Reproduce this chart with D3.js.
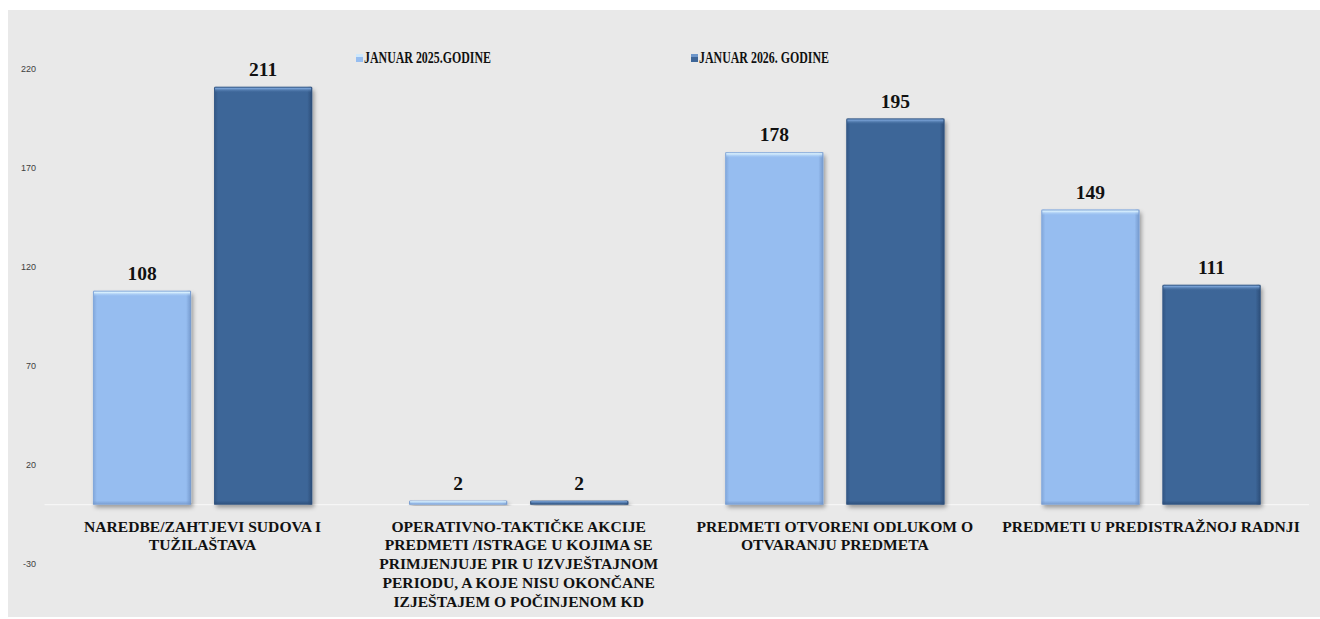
<!DOCTYPE html>
<html>
<head>
<meta charset="utf-8">
<script src="https://cdn.jsdelivr.net/npm/d3@7"></script>
<style>
  html, body { margin: 0; padding: 0; background: #ffffff; }
  svg { display: block; }
</style>
</head>
<body>
<svg id="chart" width="1320" height="619"></svg>
<script>
// ---- data ----
const categories = [
  "NAREDBE/ZAHTJEVI SUDOVA I\nTUŽILAŠTAVA",
  "OPERATIVNO-TAKTIČKE AKCIJE\nPREDMETI /ISTRAGE U KOJIMA SE\nPRIMJENJUJE PIR U IZVJEŠTAJNOM\nPERIODU, A KOJE NISU OKONČANE\nIZJEŠTAJEM O POČINJENOM KD",
  "PREDMETI OTVORENI ODLUKOM O\nOTVARANJU PREDMETA",
  "PREDMETI U PREDISTRAŽNOJ RADNJI"
];
const seriesNames = ["JANUAR 2025.GODINE", "JANUAR 2026. GODINE"];
const values2025 = [108, 2, 178, 149];
const values2026 = [211, 2, 195, 111];
const yTicks = [-30, 20, 70, 120, 170, 220];

// ---- styles ----
const baseColors = ["#96bdf0", "#3e6698"];
const highlightColors = ["#dcf3ff", "#7ba4d8"];
const edgeColors = ["#7094c8", "#2a4a74"];
const serif = "'Liberation Serif', 'DejaVu Serif', serif";

const svg = d3.select("#chart");
const defs = svg.append("defs");

// background
svg.append("rect").attr("x", 8).attr("y", 10).attr("width", 1312).attr("height", 607)
  .attr("fill", "#e9e9e9");

// drop shadow filter
const f = defs.append("filter").attr("id", "shadow").attr("x", "-20%").attr("y", "-20%")
  .attr("width", "140%").attr("height", "140%");
f.append("feDropShadow").attr("dx", 2).attr("dy", 3).attr("stdDeviation", 2)
  .attr("flood-color", "#000").attr("flood-opacity", 0.35);

// gradients for bevel overlays
seriesNames.forEach((s, i) => {
  const gt = defs.append("linearGradient").attr("id", "top" + i)
    .attr("x1", 0).attr("y1", 0).attr("x2", 0).attr("y2", 1);
  gt.append("stop").attr("offset", "0%").attr("stop-color", edgeColors[i]).attr("stop-opacity", 0.6);
  gt.append("stop").attr("offset", "25%").attr("stop-color", highlightColors[i]).attr("stop-opacity", 1);
  gt.append("stop").attr("offset", "100%").attr("stop-color", baseColors[i]).attr("stop-opacity", 0);
  const gr = defs.append("linearGradient").attr("id", "right" + i)
    .attr("x1", 0).attr("y1", 0).attr("x2", 1).attr("y2", 0);
  gr.append("stop").attr("offset", "0%").attr("stop-color", edgeColors[i]).attr("stop-opacity", 0);
  gr.append("stop").attr("offset", "100%").attr("stop-color", edgeColors[i]).attr("stop-opacity", 0.9);
  const gl = defs.append("linearGradient").attr("id", "left" + i)
    .attr("x1", 0).attr("y1", 0).attr("x2", 1).attr("y2", 0);
  gl.append("stop").attr("offset", "0%").attr("stop-color", edgeColors[i]).attr("stop-opacity", 0.6);
  gl.append("stop").attr("offset", "100%").attr("stop-color", edgeColors[i]).attr("stop-opacity", 0);
  const gb = defs.append("linearGradient").attr("id", "bottom" + i)
    .attr("x1", 0).attr("y1", 0).attr("x2", 0).attr("y2", 1);
  gb.append("stop").attr("offset", "0%").attr("stop-color", edgeColors[i]).attr("stop-opacity", 0);
  gb.append("stop").attr("offset", "100%").attr("stop-color", edgeColors[i]).attr("stop-opacity", 0.8);
});

// ---- scales ----
const y = d3.scaleLinear().domain([-30, 220]).range([564, 69]);
const x0 = d3.scaleBand().domain(categories).range([44.5, 1309]).padding(0);
const x1 = d3.scaleBand().domain(seriesNames).range([0, x0.bandwidth()])
  .paddingInner(0.19).paddingOuter(0.4);

// y axis (labels only)
const yAxis = d3.axisLeft(y).tickValues(yTicks).tickSize(0).tickPadding(4)
  .tickFormat(d => String(d));
const gy = svg.append("g").attr("transform", "translate(40,0)").call(yAxis);
gy.select(".domain").remove();
gy.selectAll("text").attr("font-family", "'Liberation Sans', 'Open Sans', sans-serif")
  .attr("font-size", 9).attr("fill", "#404040");

// baseline
svg.append("line").attr("x1", x0.range()[0]).attr("x2", x0.range()[1])
  .attr("y1", y(0)).attr("y2", y(0)).attr("stroke", "#f6f6f6").attr("stroke-width", 1.2);

// ---- bars ----
const rows = [];
categories.forEach((c, ci) => {
  rows.push({ cat: c, s: seriesNames[0], si: 0, v: values2025[ci] });
  rows.push({ cat: c, s: seriesNames[1], si: 1, v: values2026[ci] });
});

const bars = svg.append("g").selectAll("g.bar").data(rows).join("g")
  .attr("class", "bar")
  .attr("transform", d => `translate(${x0(d.cat) + x1(d.s)},${y(d.v)})`);

bars.append("rect")
  .attr("width", x1.bandwidth())
  .attr("height", d => y(0) - y(d.v))
  .attr("rx", 1.5)
  .attr("fill", d => baseColors[d.si])
  .attr("filter", "url(#shadow)");
bars.append("rect")
  .attr("width", 4).attr("height", d => y(0) - y(d.v))
  .attr("fill", d => `url(#left${d.si})`);
bars.append("rect")
  .attr("x", x1.bandwidth() - 5).attr("width", 5).attr("height", d => y(0) - y(d.v))
  .attr("fill", d => `url(#right${d.si})`);
bars.append("rect")
  .attr("y", d => Math.max(0, (y(0) - y(d.v)) - 4)).attr("width", x1.bandwidth())
  .attr("height", d => Math.min(4, y(0) - y(d.v)))
  .attr("fill", d => `url(#bottom${d.si})`);
bars.append("rect")
  .attr("x", 1).attr("width", x1.bandwidth() - 2)
  .attr("height", d => Math.min(6, y(0) - y(d.v)))
  .attr("fill", d => `url(#top${d.si})`);

// value labels
svg.append("g").selectAll("text").data(rows).join("text")
  .attr("x", d => x0(d.cat) + x1(d.s) + x1.bandwidth() / 2)
  .attr("y", d => y(d.v) - 11)
  .attr("text-anchor", "middle")
  .attr("font-family", serif).attr("font-weight", "bold").attr("font-size", 19.5)
  .attr("fill", "#111")
  .text(d => d.v);

// category labels
const catG = svg.append("g").selectAll("text").data(categories).join("text")
  .attr("text-anchor", "middle")
  .attr("font-family", serif).attr("font-weight", "bold").attr("font-size", 15.6)
  .attr("fill", "#111");
catG.each(function (c) {
  const lines = c.split("\n");
  const cx = x0(c) + x0.bandwidth() / 2;
  d3.select(this).selectAll("tspan").data(lines).join("tspan")
    .attr("x", cx)
    .attr("y", (l, i) => y(0) + 27 + i * 18.8)
    .text(l => l);
});

// legend
const legendX = [356, 691];
const legend = svg.append("g").selectAll("g").data(seriesNames).join("g")
  .attr("transform", (d, i) => `translate(${legendX[i]},54)`);
legend.append("rect").attr("width", 7).attr("height", 8)
  .attr("fill", (d, i) => baseColors[i]);
legend.append("rect").attr("width", 7).attr("height", 3)
  .attr("fill", (d, i) => highlightColors[i]).attr("opacity", 0.8);
legend.append("text").attr("x", 8).attr("y", 8.5)
  .attr("font-family", serif).attr("font-weight", "bold").attr("font-size", 16.5)
  .attr("fill", "#111")
  .attr("textLength", (d, i) => [127, 130][i]).attr("lengthAdjust", "spacingAndGlyphs")
  .text(d => d);
</script>
</body>
</html>
